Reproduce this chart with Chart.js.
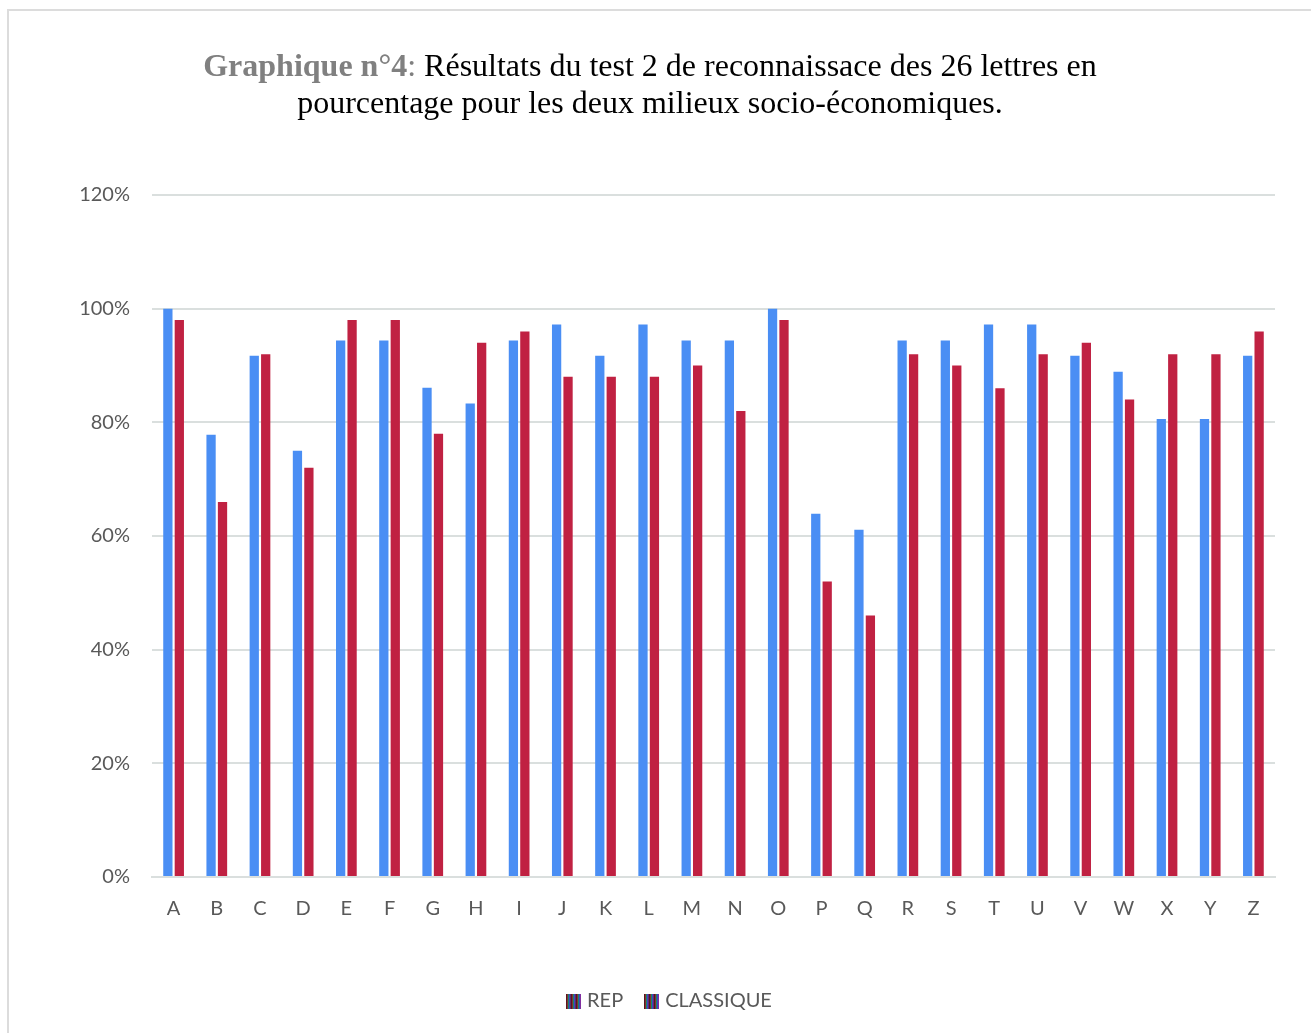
<!DOCTYPE html>
<html>
<head>
<meta charset="utf-8">
<script src="https://cdn.jsdelivr.net/npm/chart.js@4"></script>
<style>
  body { margin: 0; background: #fff; }
  #wrap { position: relative; width: 1311px; height: 1033px; overflow: hidden; }
  #frame { position: absolute; left: 7px; top: 9px; width: 1320px; height: 1040px; border: 2px solid #dcdcdc; }
  #title {
    position: absolute; left: 0; top: 47px; width: 1300px; text-align: center;
    font-family: "Liberation Serif", serif; font-size: 32px; line-height: 37px; color: #000;
  }
  #title .lead { color: #808080; font-weight: bold; }
  #title .colon { color: #808080; }
  canvas { position: absolute; left: 0; top: 0; }
</style>
</head>
<body>
<div id="wrap">
  <div id="frame"></div>
  <canvas id="chart" width="1311" height="1033"></canvas>
  <div id="title"><span class="lead">Graphique n°4</span><span class="colon">:</span> Résultats du test 2 de reconnaissace des 26 lettres en<br>pourcentage pour les deux milieux socio-économiques.</div>
</div>
<script>
// letters of the alphabet
const letters = ['A','B','C','D','E','F','G','H','I','J','K','L','M','N','O','P','Q','R','S','T','U','V','W','X','Y','Z'];

// % of recognition, REP schools
const rep = [100, 77.8, 91.7, 75, 94.4, 94.4, 86.1, 83.3, 94.4, 97.2, 91.7, 97.2, 94.4,
             94.4, 100, 63.9, 61.1, 94.4, 94.4, 97.2, 97.2, 91.7, 88.9, 80.6, 80.6, 91.7];

// % of recognition, classic schools
const classique = [98, 66, 92, 72, 98, 98, 78, 94, 96, 88, 88, 88, 90,
                   82, 98, 52, 46, 92, 90, 86, 92, 94, 84, 92, 92, 96];

const yTicks = [0, 20, 40, 60, 80, 100, 120];

// the little striped legend box (looks like a bad print in the original)
const stripes = document.createElement('canvas');
stripes.width = 15;
stripes.height = 15;
const sctx = stripes.getContext('2d');
const stripeCols = ['#202020', '#c00020', '#10a040', '#2050d0', '#8030a0'];
for (let i = 0; i < 15; i++) {
    sctx.fillStyle = stripeCols[i % stripeCols.length];
    sctx.fillRect(i, 0, 1, 15);
}

const gridColor = '#dadfde';
const textColor = '#595959';

// legend sits a bit right of centre in the original
const nudgeLegend = {
    id: 'nudgeLegend',
    afterLayout(chart) {
        chart.legend.left += 33;
        chart.legend.right += 33;
    }
};

new Chart(document.getElementById('chart'), {
    type: 'bar',
    data: {
        labels: letters,
        datasets: [
            { label: 'REP', data: rep, backgroundColor: '#4a8ef4', borderWidth: 0 },
            { label: 'CLASSIQUE', data: classique, backgroundColor: '#c02142', borderWidth: 0 }
        ]
    },
    plugins: [nudgeLegend],
    options: {
        responsive: false,
        animation: false,
        categoryPercentage: 0.53,
        barPercentage: 0.81,
        layout: { padding: { top: 195, right: 36, bottom: 12, left: 0 } },
        plugins: {
            tooltip: { enabled: false },
            legend: {
                position: 'bottom',
                labels: {
                    usePointStyle: true,
                    pointStyle: stripes,
                    boxWidth: 8,
                    color: textColor,
                    font: { family: 'Lato', size: 20 },
                    padding: 24
                }
            }
        },
        scales: {
            x: {
                grid: { display: false, drawTicks: false },
                border: { color: gridColor, width: 2 },
                ticks: { color: textColor, font: { family: 'Lato', size: 20 }, padding: 20 },
                afterFit: (s) => { s.height = 90; }
            },
            y: {
                min: 0,
                max: 120,
                afterBuildTicks: (s) => { s.ticks = yTicks.map(v => ({ value: v })); },
                grid: { color: gridColor, lineWidth: 2, drawTicks: false },
                border: { display: false },
                ticks: {
                    color: textColor,
                    font: { family: 'Lato', size: 20 },
                    padding: 22,
                    callback: (v) => v + '%'
                },
                afterFit: (s) => { s.width = 152; }
            }
        }
    }
});
</script>
</body>
</html>
